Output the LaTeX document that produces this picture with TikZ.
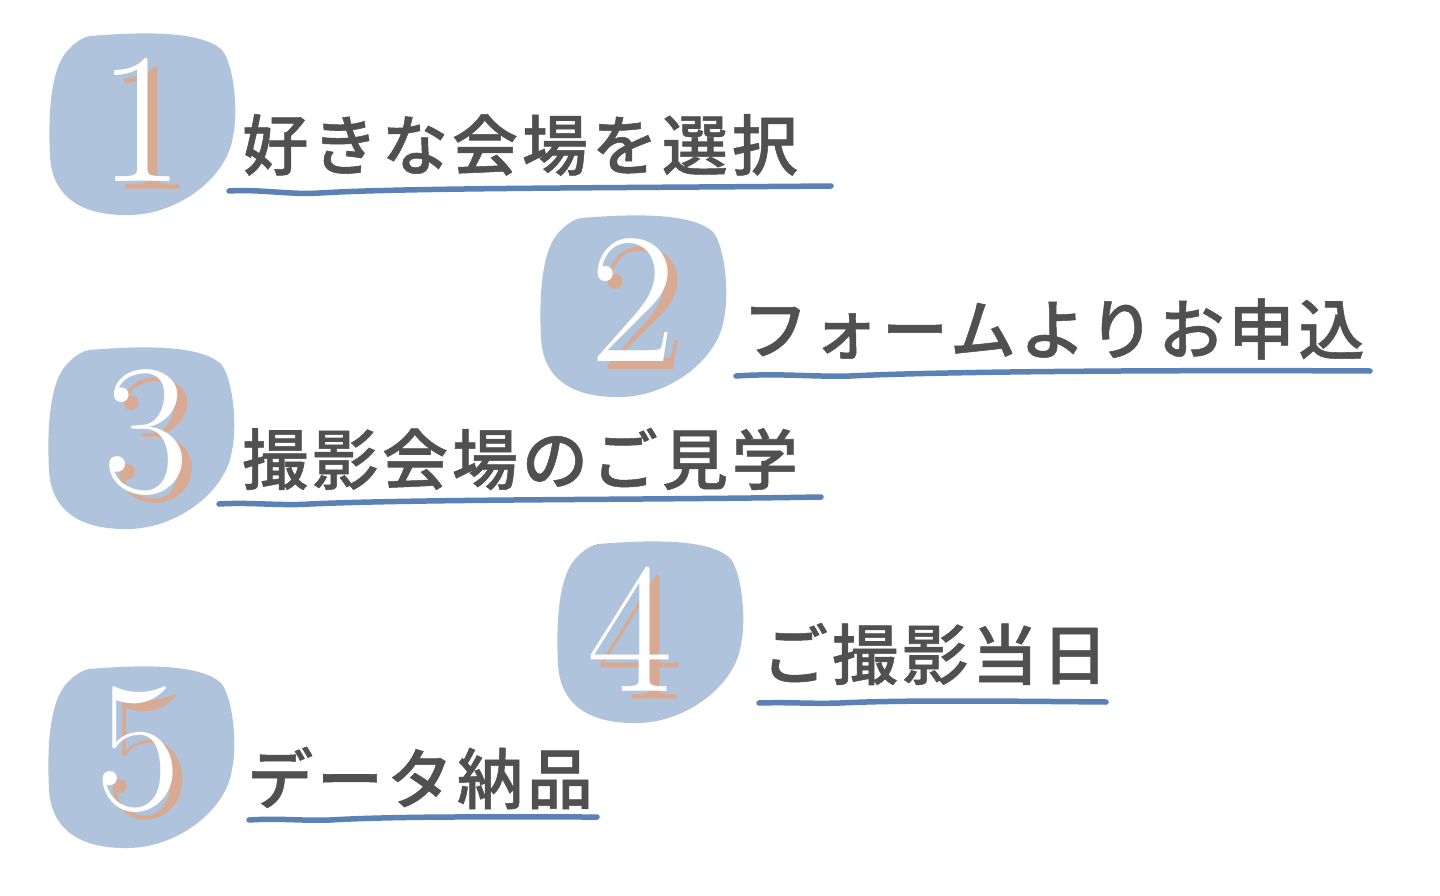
\documentclass[tikz,border=0pt]{standalone}
\usepackage{fontspec}
\newfontfamily\jp[LetterSpace=6,FakeBold=0.8]{Noto Sans CJK JP Medium}
\definecolor{blobc}{HTML}{AFC4DC}
\definecolor{salmon}{HTML}{D9AA93}
\definecolor{txt}{HTML}{505050}
\definecolor{lineblue}{HTML}{5B82B5}
\newcommand\myblob[2]{%
  \fill[blobc, shift={(#1,#2)}] (40,0) .. controls (90,-4) and (150,-6) .. (172,14)
    .. controls (185,30) and (188,80) .. (183,100)
    .. controls (178,140) and (130,178) .. (80,179)
    .. controls (30,180) and (2,160) .. (0,120)
    .. controls (-2,80) and (0,30) .. (20,12)
    .. controls (28,4) and (35,1) .. (40,0) -- cycle;}
\begin{document}
\begin{tikzpicture}[x=1pt,y=-1pt,
  numw/.style={inner sep=0pt, text=white, font=\fontsize{186}{186}\selectfont},
  nums/.style={inner sep=0pt, text=salmon, font=\fontsize{186}{186}\selectfont},
  label/.style={inner sep=0pt, anchor=west, text=txt, font=\jp\fontsize{66}{66}\selectfont},
  uline/.style={draw=lineblue, line width=5.5pt, line cap=round}]
\fill[white] (0,0) rectangle (1440,896);
\useasboundingbox (0,0) rectangle (1440,896);
% blobs
\myblob{50}{36}
\myblob{541}{218}
\myblob{49}{350}
\myblob{558}{544}
\myblob{49}{669}
% numbers
\node[nums] (s1) at (151,128) {1};
\node[numw] (n1) at (141,120) {1};
\node[nums] (s2) at (643,308) {2};
\node[numw] (n2) at (633,300) {2};
\node[nums] (s3) at (156,441) {3};
\node[numw] (n3) at (146,433) {3};
\node[nums] (s4) at (640,637) {4};
\node[numw] (n4) at (630,629) {4};
\node[nums] (s5) at (148,758) {5};
\node[numw] (n5) at (138,750) {5};
% labels
\node[label] (t1) at (242,145) {好きな会場を選択};
\node[label] (t2) at (742,329) {フォームよりお申込};
\node[label] (t3) at (242,459) {撮影会場のご見学};
\node[label] (t4) at (762,654) {ご撮影当日};
\node[label] (t5) at (247,778) {データ納品};
% underlines
\draw[uline] (229,191) .. controls (260,189) and (290,195) .. (320,193) .. controls (400,188) and (600,188) .. (831,186);
\draw[uline] (736,376) .. controls (780,373) and (810,377) .. (850,376) .. controls (950,371) and (1200,370) .. (1370,371);
\draw[uline] (219,504) .. controls (250,502) and (280,506) .. (310,504) .. controls (420,499) and (650,500) .. (821,497);
\draw[uline] (759,703) .. controls (790,702) and (810,704) .. (840,703) .. controls (900,700) and (1000,701) .. (1106,702);
\draw[uline] (249,820) .. controls (280,818) and (300,821) .. (330,820) .. controls (400,816) and (500,817) .. (597,817);
\end{tikzpicture}
\end{document}
